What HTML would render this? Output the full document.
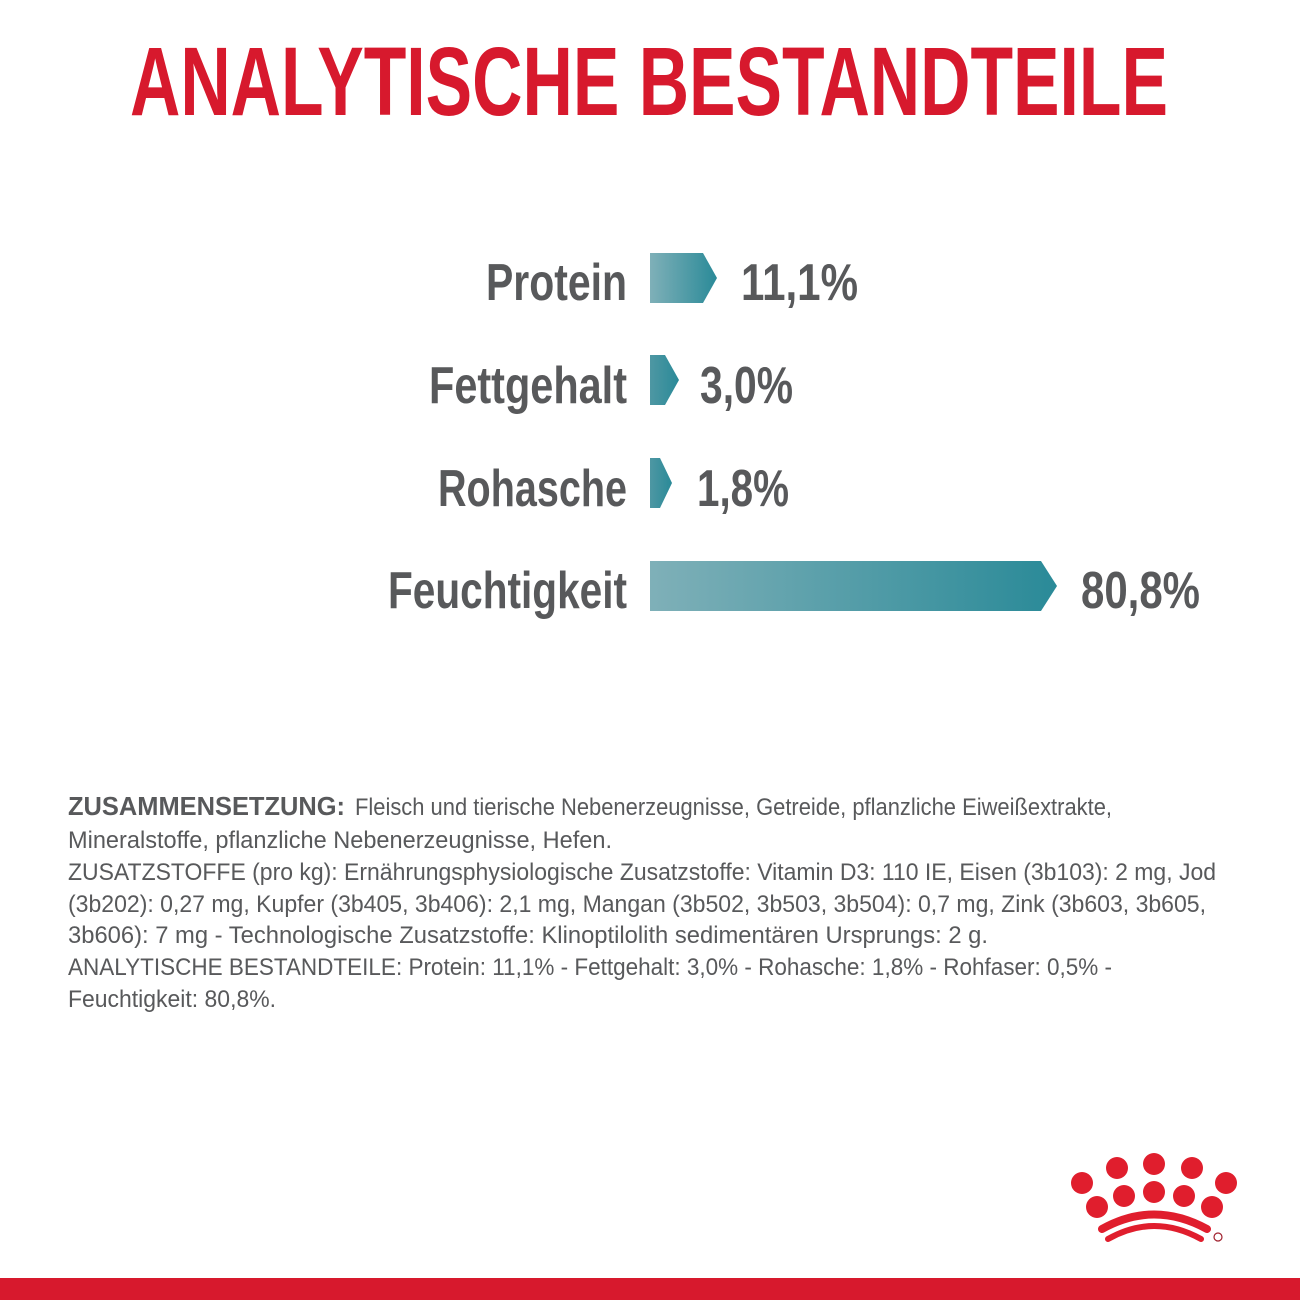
<!DOCTYPE html>
<html><head><meta charset="utf-8"><style>
html,body{margin:0;padding:0;background:#fff;}
svg{display:block;}
</style></head><body>
<svg width="1300" height="1300" viewBox="0 0 1300 1300" xmlns="http://www.w3.org/2000/svg">
<defs>
<linearGradient id="g" x1="0" x2="1" y1="0" y2="0">
<stop offset="0" stop-color="#7fb0b8"/><stop offset="1" stop-color="#2a8a98"/>
</linearGradient>
<linearGradient id="g2" x1="0" x2="1" y1="0" y2="0">
<stop offset="0" stop-color="#4e97a3"/><stop offset="1" stop-color="#2a8a98"/>
</linearGradient>
</defs>
<rect width="1300" height="1300" fill="#fff"/>
<text x="130" y="115" font-family="Liberation Sans, sans-serif" font-weight="bold" font-size="97" fill="#d7192d" textLength="1038" lengthAdjust="spacingAndGlyphs">ANALYTISCHE BESTANDTEILE</text>

<g font-family="Liberation Sans, sans-serif" font-weight="bold" fill="#58595b" font-size="52">
<text x="486" y="300" textLength="141" lengthAdjust="spacingAndGlyphs">Protein</text>
<text x="429" y="403" textLength="198" lengthAdjust="spacingAndGlyphs">Fettgehalt</text>
<text x="438" y="506" textLength="189" lengthAdjust="spacingAndGlyphs">Rohasche</text>
<text x="388" y="608" textLength="239" lengthAdjust="spacingAndGlyphs">Feuchtigkeit</text>
<text x="741" y="300" textLength="117" lengthAdjust="spacingAndGlyphs">11,1%</text>
<text x="700" y="403" textLength="93" lengthAdjust="spacingAndGlyphs">3,0%</text>
<text x="697" y="506" textLength="92" lengthAdjust="spacingAndGlyphs">1,8%</text>
<text x="1081" y="608" textLength="119" lengthAdjust="spacingAndGlyphs">80,8%</text>
</g>
<polygon points="650,253 703,253 717,278 703,303 650,303" fill="url(#g)"/>
<polygon points="650,355 665,355 679,380 665,405 650,405" fill="url(#g2)"/>
<polygon points="650,458 660,458 672,483 660,508 650,508" fill="url(#g2)"/>
<polygon points="650,561 1041,561 1057,586 1041,611 650,611" fill="url(#g)"/>

<g font-family="Liberation Sans, sans-serif" font-size="24" fill="#58595b">
<text x="68" y="815" font-weight="bold" font-size="26" textLength="277" lengthAdjust="spacingAndGlyphs">ZUSAMMENSETZUNG:</text>
<text x="355" y="815" textLength="757" lengthAdjust="spacingAndGlyphs">Fleisch und tierische Nebenerzeugnisse, Getreide, pflanzliche Eiweißextrakte,</text>
<text x="68" y="848" textLength="544" lengthAdjust="spacingAndGlyphs">Mineralstoffe, pflanzliche Nebenerzeugnisse, Hefen.</text>
<text x="68" y="880" textLength="1148" lengthAdjust="spacingAndGlyphs">ZUSATZSTOFFE (pro kg): Ernährungsphysiologische Zusatzstoffe: Vitamin D3: 110 IE, Eisen (3b103): 2 mg, Jod</text>
<text x="68" y="912" textLength="1138" lengthAdjust="spacingAndGlyphs">(3b202): 0,27 mg, Kupfer (3b405, 3b406): 2,1 mg, Mangan (3b502, 3b503, 3b504): 0,7 mg, Zink (3b603, 3b605,</text>
<text x="68" y="943" textLength="920" lengthAdjust="spacingAndGlyphs">3b606): 7 mg - Technologische Zusatzstoffe: Klinoptilolith sedimentären Ursprungs: 2 g.</text>
<text x="68" y="975" textLength="1044" lengthAdjust="spacingAndGlyphs">ANALYTISCHE BESTANDTEILE: Protein: 11,1% - Fettgehalt: 3,0% - Rohasche: 1,8% - Rohfaser: 0,5% -</text>
<text x="68" y="1007" textLength="208" lengthAdjust="spacingAndGlyphs">Feuchtigkeit: 80,8%.</text>
</g>

<g fill="#e01e2d">
<circle cx="1154" cy="1164" r="11"/>
<circle cx="1117" cy="1168" r="11"/>
<circle cx="1192" cy="1168" r="11"/>
<circle cx="1082" cy="1183" r="11"/>
<circle cx="1226" cy="1183" r="11"/>
<circle cx="1097" cy="1207" r="11"/>
<circle cx="1124" cy="1196" r="11"/>
<circle cx="1154" cy="1192" r="11"/>
<circle cx="1184" cy="1196" r="11"/>
<circle cx="1212" cy="1207" r="11"/>
</g>
<path d="M1102,1229 Q1154,1200 1207,1229" stroke="#e01e2d" stroke-width="8" fill="none" stroke-linecap="round"/>
<path d="M1108,1239 Q1154,1213 1201,1239" stroke="#e01e2d" stroke-width="6" fill="none" stroke-linecap="round"/>
<circle cx="1218" cy="1237" r="4" fill="none" stroke="#a0202d" stroke-width="1.2"/>
<rect x="0" y="1278" width="1300" height="22" fill="#d7192d"/>
</svg>
</body></html>
